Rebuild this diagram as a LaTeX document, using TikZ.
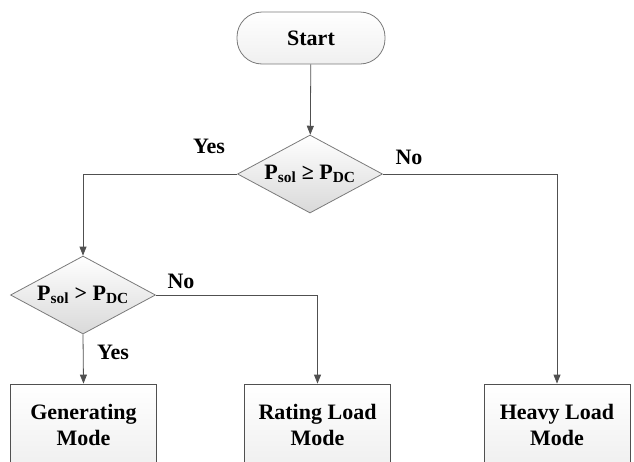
\documentclass[tikz,border=0pt]{standalone}
\usepackage{fontspec}
\setmainfont{Liberation Serif}
\usetikzlibrary{shapes,arrows.meta}
\definecolor{lines}{HTML}{505050}
\definecolor{rims}{HTML}{7A7A7A}

\begin{document}
\begin{tikzpicture} [x=1pt,y=-1pt,
  txt/.style= {font=\fontsize{22}{26}\selectfont\bfseries,align=center},
  term/.style= {txt,shape=rectangle,rounded corners=25pt,minimum width=148pt,minimum height=52pt,draw=rims,thick,top color=white,bottom color=gray!12},
  choice/.style= {txt,shape=diamond,shape aspect=1.86,inner sep=0,minimum width=145pt,minimum height=78pt,draw=rims,thick,top color=white,bottom color=gray!30},
  mode/.style= {txt,shape=rectangle,minimum width=146pt,minimum height=82pt,draw=lines,thick,top color=white,bottom color=gray!12},
  flow/.style= {draw=lines,thick,-{Triangle[length=9pt,width=7pt]}},
  lbl/.style= {txt}]
  \useasboundingbox (0,0) rectangle (634,461);
  \clip (0,0) rectangle (634,461);
  % Start and tests
  {\node[term] (start) at (311,38) {Start};}
  {\node[choice] (test1) at (310,174) {P\textsubscript{sol} ≥ P\textsubscript{DC}};}
  {\node[choice] (test2) at (83,295) {P\textsubscript{sol} > P\textsubscript{DC}};}
  % Modes
  {\node[mode] (gen)   at (83.5,425)  {Generating\\Mode};}
  {\node[mode] (rate)  at (317.5,425) {Rating Load\\Mode};}
  {\node[mode] (heavy) at (557,425)   {Heavy Load\\Mode};}
  % Connectors
  \draw[flow] (start) -- (test1);
  \draw[flow] (test1.west) -| (test2.north);
  \draw[flow] (test1.east) -| (heavy.north);
  \draw[flow] (test2.east) -| (rate.north);
  \draw[flow] (test2.south) -- (gen.north);
  % Labels
  {\node[lbl] (yes1) at (209,146) {Yes};}
  {\node[lbl] (no1)  at (409,157) {No};}
  {\node[lbl] (no2)  at (181,281) {No};}
  {\node[lbl] (yes2) at (113,352) {Yes};}
\end{tikzpicture}
\end{document}
